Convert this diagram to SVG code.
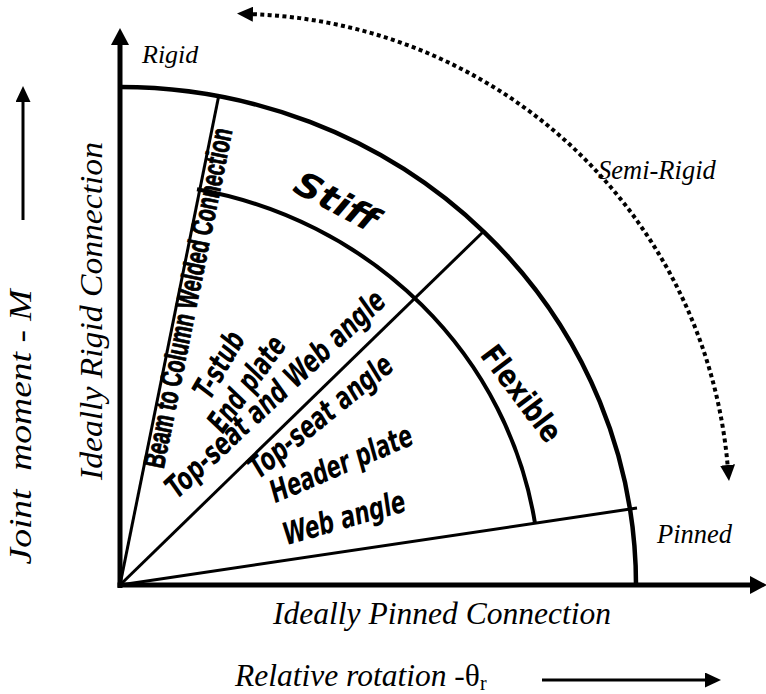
<svg xmlns="http://www.w3.org/2000/svg" width="766" height="694" viewBox="0 0 766 694">
  <style>
    .axis { stroke: #000; stroke-width: 5; fill: none; }
    .boundary { stroke: #000; fill: none; }
    .ray { stroke: #000; stroke-width: 3; fill: none; }
    .pointer { stroke: #000; stroke-width: 3; fill: none; }
    .dotted { stroke: #000; stroke-width: 4; stroke-dasharray: 4 3.4; fill: none; }
  </style>
  <defs>
    <marker id="axisHead" markerUnits="userSpaceOnUse" markerWidth="17" markerHeight="18" viewBox="0 -9 17 18" refX="0" refY="0" orient="auto">
      <path d="M0,-9 L17,0 L0,9 Z" fill="#000"/>
    </marker>
    <marker id="smallHead" markerUnits="userSpaceOnUse" markerWidth="16" markerHeight="15" viewBox="0 -7.5 16 15" refX="0" refY="0" orient="auto-start-reverse">
      <path d="M0,-7.5 L16,0 L0,7.5 Z" fill="#000"/>
    </marker>
  </defs>

  <!-- coordinate axes -->
  <g id="axes">
    <path class="axis" d="M120,588 V45" marker-end="url(#axisHead)"/>
    <path class="axis" d="M117.5,585 H750" marker-end="url(#axisHead)"/>
  </g>

  <!-- stiffness zone boundaries -->
  <g id="zone-boundaries">
    <path id="rigid-limit" class="boundary" stroke-width="4.5" d="M120,87 A516,498 0 0 1 636,585"/>
    <path id="stiff-flexible-limit" class="boundary" stroke-width="4" d="M197,189.2 A420,402.6 0 0 1 535,523.3"/>
  </g>

  <!-- rays from the origin separating the connection types, plus direction arrows -->
  <g id="connectors">
    <path class="ray" d="M120,585 L218.7,96"/>
    <path class="ray" d="M120,585 L484,231"/>
    <path class="ray" d="M120,585 L637,508"/>
    <path class="dotted" d="M253,14.2 A495,495 0 0 1 727.6,465" marker-start="url(#smallHead)" marker-end="url(#smallHead)"/>
    <path class="pointer" d="M23,220 V102" marker-end="url(#smallHead)"/>
    <path class="pointer" d="M542,680 H705" marker-end="url(#smallHead)"/>
  </g>

  <!-- axis and region captions (serif italic) -->
  <g id="captions" font-family="'Liberation Serif', 'Times New Roman', 'DejaVu Serif', serif" font-style="italic" fill="#000">
    <g id="label-rigid"><text x="142" y="63" font-size="26">Rigid</text></g>
    <g id="label-semi-rigid"><text x="598" y="179" font-size="26.5">Semi-Rigid</text></g>
    <g id="label-pinned"><text x="657" y="543" font-size="26.5">Pinned</text></g>
    <g id="label-ideally-pinned"><text x="273" y="624" font-size="31.5" textLength="338" lengthAdjust="spacingAndGlyphs">Ideally Pinned Connection</text></g>
    <g id="label-rotation"><text x="235" y="686" font-size="31.5">Relative rotation -<tspan font-style="normal">θ</tspan><tspan font-style="normal" font-size="20" dy="4">r</tspan></text></g>
    <g id="label-ideally-rigid"><text font-size="31.5" text-anchor="middle" textLength="338" lengthAdjust="spacingAndGlyphs" transform="translate(102,311) rotate(-90)">Ideally Rigid Connection</text></g>
    <g id="label-moment"><text font-size="31.5" text-anchor="middle" textLength="275" lengthAdjust="spacingAndGlyphs" transform="translate(31,427) rotate(-90)">Joint&#160; moment - M</text></g>
  </g>

  <!-- connection type labels -->
  <g id="type-welded"><text font-family="'Liberation Sans', Arial, sans-serif" font-weight="bold" font-size="30" fill="#000" stroke="#000" stroke-width="0.9" text-anchor="middle" textLength="346" lengthAdjust="spacingAndGlyphs" transform="translate(198,300) rotate(-78.5)">Beam to Column Welded Connection</text></g>
  <g id="zone-labels" font-family="'DejaVu Sans', sans-serif" font-weight="bold" font-style="oblique" font-size="31" fill="#000">
    <g id="type-t-stub"><text text-anchor="middle" textLength="72" lengthAdjust="spacingAndGlyphs" transform="translate(228,370) rotate(-60)">T-stub</text></g>
    <g id="type-end-plate"><text text-anchor="middle" textLength="110" lengthAdjust="spacingAndGlyphs" transform="translate(255,390) rotate(-54)">End plate</text></g>
    <g id="type-top-seat-web"><text text-anchor="middle" textLength="288" lengthAdjust="spacingAndGlyphs" transform="translate(282.3,401.6) rotate(-43)">Top-seat and Web angle</text></g>
    <g id="type-top-seat"><text text-anchor="middle" textLength="176" lengthAdjust="spacingAndGlyphs" transform="translate(327,424.4) rotate(-39)">Top-seat angle</text></g>
    <g id="type-header-plate"><text text-anchor="middle" textLength="152" lengthAdjust="spacingAndGlyphs" transform="translate(345.2,473.5) rotate(-23)">Header plate</text></g>
    <g id="type-web-angle"><text text-anchor="middle" textLength="126" lengthAdjust="spacingAndGlyphs" transform="translate(346.9,528) rotate(-16)">Web angle</text></g>
    <g id="zone-stiff"><text font-size="34" text-anchor="middle" textLength="90" lengthAdjust="spacingAndGlyphs" transform="translate(331,212) rotate(28)">Stiff</text></g>
    <g id="zone-flexible"><text font-style="normal" text-anchor="middle" textLength="112" lengthAdjust="spacingAndGlyphs" transform="translate(513,400) rotate(53)">Flexible</text></g>
  </g>
</svg>
